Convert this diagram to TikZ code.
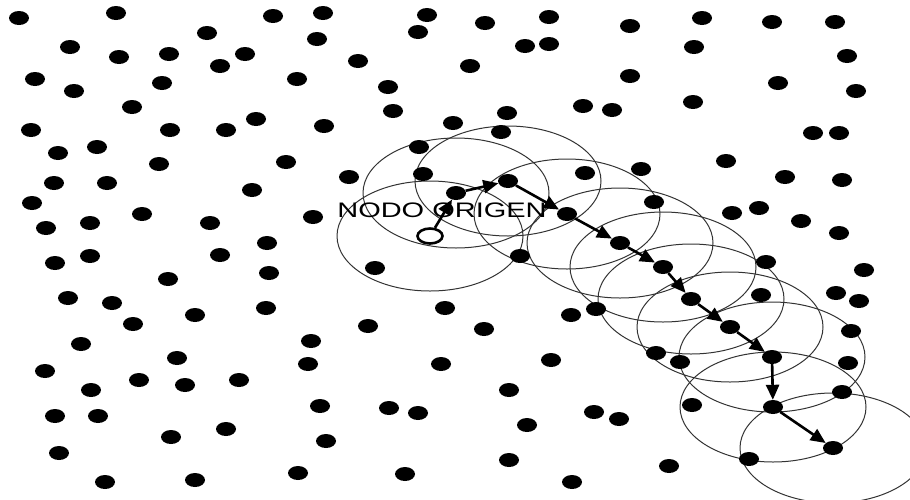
\documentclass[tikz,border=0pt]{standalone}
\usepackage{graphicx}
\usepackage{fontspec}
\setmainfont{Liberation Sans}
\usetikzlibrary{shapes.geometric,arrows.meta}
\begin{document}
\begin{tikzpicture}[x=1pt,y=-1pt,
 dot/.style={ellipse,fill=black,inner sep=0pt,minimum width=20pt,minimum height=14pt},
 orig/.style={ellipse,draw=black,fill=white,line width=2.6pt,inner sep=0pt,minimum width=25pt,minimum height=15pt},
 coverring/.style={draw=black!80,line width=1pt},
 hop/.style={line width=2.6pt,-{Triangle[length=15pt,width=13pt]}},
 lbl/.style={font=\fontsize{21}{21}\selectfont,inner sep=0pt,anchor=base}]
\useasboundingbox (0,0) rectangle (910,499);
\fill[white] (0,0) rectangle (910,499);
\clip (0,0) rectangle (910,499);
% path positions
\foreach \x/\y [count=\i from 0] in {430/236,456/193,508/181,567/214,620/243,663/267,691/299,730/327,772/357,773/407,833/448}
  \coordinate (c\i) at (\x,\y);
% coverage ranges
\foreach \i in {0,...,10}
  \draw[coverring] (c\i) ellipse [x radius=93, y radius=55];
% scattered nodes
\foreach \x/\y [count=\i] in {
19/18,116/13,273/16,207/33,70/47,119/57,169/54,245/54,220/66,317/39,
35/79,74/91,162/83,297/79,132/107,31/130,170/130,226/130,256/119,58/153,
97/147,159/164,286/162,54/183,107/183,252/190,32/203,142/214,46/228,90/223,
210/223,313/217,267/243,220/255,90/256,
323/13,427/15,485/23,549/17,418/32,525/46,549/44,358/61,470/66,388/87,
393/111,324/126,453/123,507/113,501/132,583/106,612/110,419/147,349/177,423/174,
585/173,
630/26,702/18,772/22,835/22,694/47,847/56,630/76,778/83,856/91,693/102,
813/133,839/133,726/161,641/169,785/177,842/180,654/202,732/213,759/208,801/221,
839/233,
55/263,269/273,168/279,68/298,112/303,133/324,195/315,266/308,81/344,177/358,
45/371,91/390,139/380,185/385,239/380,55/416,98/416,171/437,226/429,59/453,
105/482,195/480,298/473,
375/268,520/256,445/308,368/326,484/329,571/315,596/309,311/341,308/364,441/364,
551/360,509/390,320/406,389/408,418/413,527/425,594/412,326/441,509/460,405/474,
572/482,
766/262,864/270,761/295,836/293,859/301,851/331,656/353,680/362,848/363,842/392,
692/405,619/419,749/459,669/466}
  \node[dot] (d\i) at (\x,\y) {};
% route nodes
\node[orig] (p0) at (c0) {};
\foreach \i in {1,...,10}
  \node[dot] (p\i) at (c\i) {};
% hops
\foreach \a/\b in {0/1,1/2,2/3,3/4,4/5,5/6,6/7,7/8,8/9,9/10}
  \draw[hop] (p\a) -- (p\b);
% label
\node[lbl] (label) at (442,217) {\scalebox{1.38}[1]{NODO ORIGEN}};
\end{tikzpicture}
\end{document}
